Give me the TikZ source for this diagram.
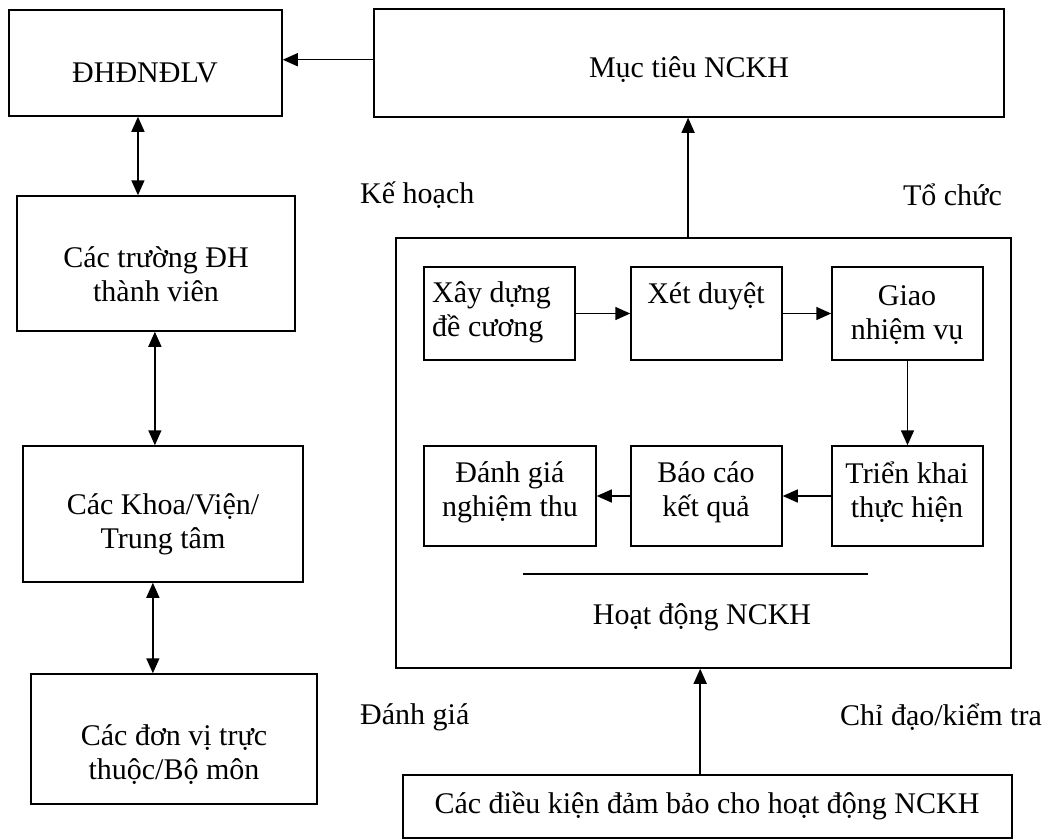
\documentclass[tikz,border=0pt]{standalone}
\usepackage{fontspec}
\setmainfont{Liberation Serif}
\usetikzlibrary{arrows.meta,fit,calc}

\begin{document}
\begin{tikzpicture}[x=1pt,y=-1pt,
  box/.style={draw,line width=1.5pt,inner sep=0pt},
  txt/.style={inner sep=0pt,font=\fontsize{30}{34}\selectfont},
  mtxt/.style={txt,align=center},
  tip/.style={Triangle[length=15pt,width=13pt]},
  arr/.style={line width=1.5pt,-{Triangle[length=15pt,width=13pt]}},
  darr/.style={line width=1.5pt,{Triangle[length=15pt,width=13pt]}-{Triangle[length=15pt,width=13pt]}},
  rule/.style={line width=1.5pt}]
\useasboundingbox (0,0) rectangle (1045,839);

% left column: organisational levels
\node[box,fit={(9,10) (282,116)}] (dh) {};
\node[txt] (dht) at (145,73) {ĐHĐNĐLV};
\node[box,fit={(17,196) (295,331)}] (tr) {};
\node[mtxt] (trt) at (156,274) {Các trường ĐH\\thành viên};
\node[box,fit={(23,446) (303,582)}] (kh) {};
\node[mtxt] (kht) at (163,524) {Các Khoa/Viện/\\Trung tâm};
\node[box,fit={(31,674) (317,804)}] (dv) {};
\node[mtxt] (dvt) at (174,755) {Các đơn vị trực\\thuộc/Bộ môn};

% goal box
\node[box,fit={(374,9) (1004,117)}] (mt) {};
\node[txt] (mtt) at (689,70) {Mục tiêu NCKH};

% management functions
\node[txt,anchor=west] (kehoach) at (360,195) {Kế hoạch};
\node[txt,anchor=east] (tochuc) at (1002,195) {Tổ chức};
\node[txt,anchor=west] (danhgia) at (360,717) {Đánh giá};
\node[txt,anchor=east] (chidao) at (1042,717) {Chỉ đạo/kiểm tra};

% research activity frame
\node[box,fit={(396,238) (1011,668)}] (hd) {};
\node[box,fit={(424,267) (575,360)}] (xd) {};
\node[txt,align=left,anchor=west] (xdt) at (432,312) {Xây dựng\\đề cương};
\node[box,fit={(631,267) (782,360)}] (xe) {};
\node[txt] (xet) at (706,296) {Xét duyệt};
\node[box,fit={(832,267) (983,360)}] (gn) {};
\node[mtxt] (gnt) at (907,315) {Giao\\nhiệm vụ};
\node[box,fit={(832,446) (983,546)}] (tk) {};
\node[mtxt] (tkt) at (907,492) {Triển khai\\thực hiện};
\node[box,fit={(631,446) (782,546)}] (bc) {};
\node[mtxt] (bct) at (706,492) {Báo cáo\\kết quả};
\node[box,fit={(424,446) (596,546)}] (dg) {};
\node[mtxt] (dgt) at (510,492) {Đánh giá\\nghiệm thu};
\draw[rule] (523,574) -- (868,574);
\node[txt] (hdt) at (702,617) {Hoạt động NCKH};

% supporting conditions
\node[box,fit={(403,775) (1012,838)}] (dk) {};
\node[txt] (dkt) at (707,806) {Các điều kiện đảm bảo cho hoạt động NCKH};

% connectors
\draw[arr] ($(mt.north west)!0.47!(mt.south west)$) coordinate (p1) -- (p1 -| dh.east);
\draw[darr] ($(dh.south west)!0.4725!(dh.south east)$) coordinate (p2) -- (p2 |- tr.north);
\draw[darr] ($(tr.south west)!0.496!(tr.south east)$) coordinate (p3) -- (p3 |- kh.north);
\draw[darr] ($(kh.south west)!0.464!(kh.south east)$) coordinate (p4) -- (p4 |- dv.north);
\draw[arr] ($(hd.north west)!0.475!(hd.north east)$) coordinate (p5) -- (p5 |- mt.south);
\draw[arr] ($(dk.north west)!0.488!(dk.north east)$) coordinate (p6) -- (p6 |- hd.south);
\draw[arr] (xd) -- (xe);
\draw[arr] (xe) -- (gn);
\draw[arr] (gn) -- (tk);
\draw[arr] (tk) -- (bc);
\draw[arr] (bc) -- (dg);
\end{tikzpicture}
\end{document}
